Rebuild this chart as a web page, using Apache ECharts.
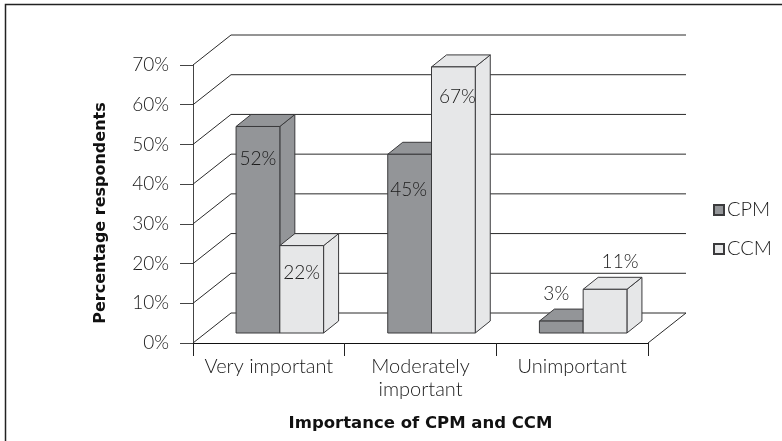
<!DOCTYPE html>
<html>
<head>
<meta charset="utf-8">
<style>html,body{margin:0;padding:0;background:#fff}#c{width:782px;height:441px}</style>
<script src="https://cdn.jsdelivr.net/npm/echarts@6/dist/echarts.min.js"></script>
</head>
<body>
<div id="c"></div>
<script>
var categories = ['Very important', 'Moderately\nimportant', 'Unimportant'];
var cpmValues = [52, 45, 3];
var ccmValues = [22, 67, 11];
var wallTicks = [0, 10, 20, 30, 40, 50, 60, 70];
var axisMax = 70;
var axisStep = 10;

// layout of the pseudo-3D box (pixels)
var wallDx = 38, wallDy = -30;
var frontDx = 11, frontDy = -10;
var barDepthDx = 15, barDepthDy = -12;
var barFraction = 0.2885;
var cpmLabelShift = [[0, 32], [-1, 36], [-5, -27]];
var ccmLabelShift = [[0, 27], [4, 30], [15, -27]];

var FONT = 'Lato, "Open Sans", sans-serif';
var INK = '#3a3a3c';

function barItem(side, shifts, fill) {
  return function (params, api) {
    var i = api.value(0), v = api.value(1);
    var top = api.coord([i, v]);
    var base = api.coord([i, 0]);
    var band = api.size([1, 0])[0];
    var w = band * barFraction;
    var x0 = top[0] - (side === 0 ? w : 0) + frontDx;
    var x1 = x0 + w;
    var yt = top[1] + frontDy;
    var yb = base[1] + frontDy;
    var st = { fill: fill, stroke: INK, lineWidth: 1 };
    var s = shifts[i];
    return {
      type: 'group',
      children: [
        { type: 'polygon', shape: { points: [[x1, yt], [x1 + barDepthDx, yt + barDepthDy], [x1 + barDepthDx, yb + barDepthDy], [x1, yb]] }, style: st },
        { type: 'polygon', shape: { points: [[x0, yt], [x0 + barDepthDx, yt + barDepthDy], [x1 + barDepthDx, yt + barDepthDy], [x1, yt]] }, style: st },
        { type: 'rect', shape: { x: x0, y: yt, width: w, height: yb - yt }, style: st },
        { type: 'text', z2: 10, style: { text: v + '%', x: (x0 + x1) / 2 + s[0], y: yt + s[1], align: 'center', verticalAlign: 'middle', font: '300 19px ' + FONT, fill: '#1a1a1a' } }
      ]
    };
  };
}

function wallItem(params, api) {
  var v = api.value(0);
  var a = api.coord([0, v]);
  var band = api.size([1, 0])[0];
  var left = a[0] - band / 2;
  var right = left + band * categories.length;
  var pts = [[left, a[1]], [left + wallDx, a[1] + wallDy], [right + wallDx, a[1] + wallDy]];
  if (v === 0) pts.push([right, a[1]]);
  return { type: 'polyline', shape: { points: pts }, style: { fill: 'none', stroke: '#2a2a2a', lineWidth: 1 } };
}

var chart = echarts.init(document.getElementById('c'), null, { renderer: 'canvas' });
chart.setOption({
  animation: false,
  backgroundColor: '#fff',
  textStyle: { fontFamily: FONT },
  grid: { left: 193, right: 134, top: 65, bottom: 98 },
  xAxis: {
    type: 'category', data: categories,
    name: 'Importance of CPM and CCM', nameLocation: 'middle', nameGap: 72,
    nameTextStyle: { fontSize: 16.5, fontWeight: 'bold', color: '#111', fontFamily: 'DejaVu Sans' },
    axisLine: { lineStyle: { color: '#111', width: 1 } },
    axisTick: { show: true, alignWithLabel: false, length: 13, lineStyle: { color: '#222' } },
    axisLabel: { show: true, interval: 0, hideOverlap: false, fontSize: 20, fontWeight: 300, color: '#1a1a1a', margin: 12, lineHeight: 23 },
    splitLine: { show: false }
  },
  yAxis: {
    type: 'value', min: 0, max: axisMax, interval: axisStep,
    name: 'Percentage respondents', nameLocation: 'middle', nameGap: 84, nameRotate: 90,
    nameTextStyle: { fontSize: 16, fontWeight: 'bold', color: '#111', fontFamily: 'DejaVu Sans', padding: [0, 18, 0, 0] },
    axisLine: { show: true, lineStyle: { color: '#444', width: 1 } },
    axisTick: { show: true, length: 13, lineStyle: { color: '#444' } },
    axisLabel: { fontSize: 19, fontWeight: 300, color: '#1a1a1a', margin: 24, formatter: '{value}%' },
    splitLine: { show: false }
  },
  legend: {
    left: 708, top: 195, orient: 'vertical', itemGap: 19,
    itemWidth: 10, itemHeight: 10, icon: 'rect',
    textStyle: { fontSize: 20, fontWeight: 300, color: '#1a1a1a', padding: [0, 0, 0, -2] },
    data: ['CPM', 'CCM']
  },
  series: [
    { type: 'custom', name: 'wall', coordinateSystem: 'cartesian2d', silent: true, z: 1,
      encode: { y: 0 }, data: wallTicks.map(function (t) { return [t]; }), renderItem: wallItem, clip: false },
    { type: 'custom', name: 'CPM', z: 2, clip: false, renderItem: barItem(0, cpmLabelShift, '#939598'),
      itemStyle: { color: '#939598', borderColor: '#3a3a3c', borderWidth: 1 },
      encode: { x: 0, y: 1 },
      data: cpmValues.map(function (v, i) { return [i, v]; }) },
    { type: 'custom', name: 'CCM', z: 3, clip: false, renderItem: barItem(1, ccmLabelShift, '#e6e7e8'),
      itemStyle: { color: '#e6e7e8', borderColor: '#3a3a3c', borderWidth: 1 },
      encode: { x: 0, y: 1 },
      data: ccmValues.map(function (v, i) { return [i, v]; }) }
  ],
  graphic: [{
    type: 'polyline', silent: true,
    shape: { points: [[5.5, 441], [5.5, 4.5], [782, 4.5]] },
    style: { fill: 'none', stroke: '#222', lineWidth: 1.5 }
  }]
});
</script>
</body>
</html>
